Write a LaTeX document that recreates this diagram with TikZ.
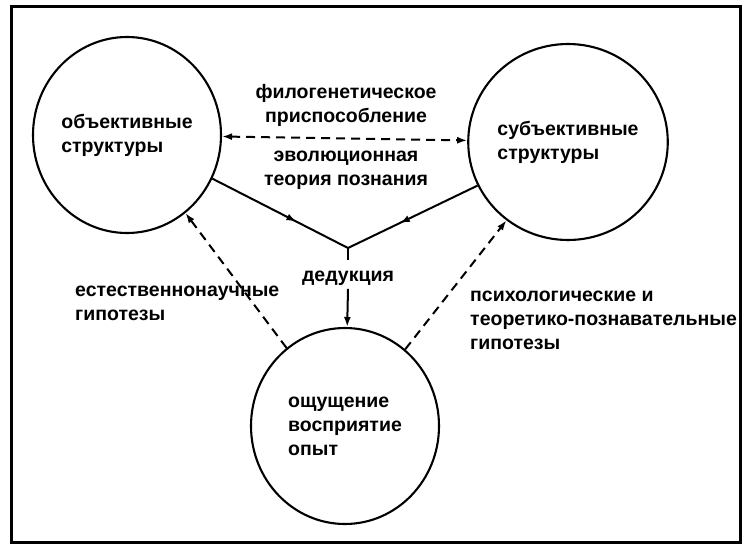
\documentclass[tikz,border=0pt]{standalone}
\usepackage{fontspec}
\setmainfont{Liberation Sans}
\usetikzlibrary{positioning,shapes.geometric,arrows.meta,decorations.markings}

\begin{document}
\begin{tikzpicture}[x=1pt, y=-1pt,
		>={Latex[length=10pt,width=7pt]},
		every node/.style={font=\fontsize{19.5}{24}\selectfont\bfseries},
		ovalnode/.style={ellipse, draw, line width=2.1pt, inner sep=0pt, minimum width=188pt, minimum height=196pt, align=left},
		textnode/.style={align=left, inner sep=0pt},
		hyparrow/.style={->, line width=2pt, dash pattern=on 9pt off 6pt},
		midarrow/.style={line width=2pt, postaction={decorate},
			decoration={markings, mark=at position #1 with {\arrow{>}}}},
		]
		\useasboundingbox (0,0) rectangle (751,551);
		\draw[line width=3pt] (11,7) rectangle (740,542);
		
		%Nodes
		\node[ovalnode]       (obj)  at (127,135) {объективные\\структуры};
		\node[ovalnode]       (subj) at (568,142) {субъективные\\структуры};
		\node[ovalnode]       (sens) at (345,426) {ощущение\\восприятие\\опыт};
		\coordinate           (junc) at (348,248);
		\node[inner sep=0pt]  (ded)  [below=23pt of junc] {дедукция};
		
		\node[textnode, align=center] (phylo) at (346,105) {филогенетическое\\приспособление};
		\node[textnode, align=center] (evol)  at (346,170) {эволюционная\\теория познания};
		\node[textnode, anchor=west]  (nat)   at (75,303)  {естественнонаучные\\гипотезы};
		\node[textnode, anchor=west]  (psy)   at (470,320) {психологические и\\теоретико-познавательные\\гипотезы};
		
		%Lines
		\draw[<->, line width=2pt, dash pattern=on 9pt off 6pt] (obj) -- (subj);
		\draw[midarrow=0.62] (obj) -- (junc);
		\draw[midarrow=0.6] (subj) -- (junc);
		\draw[line width=2pt] (junc) -- ([yshift=11pt]ded.north);
		\draw[->, line width=2pt] ([yshift=-3pt]ded.south) -- (sens);
		\draw[hyparrow] (sens) -- (obj);
		\draw[hyparrow] (sens) -- (subj);
		\end{tikzpicture}
\end{document}
